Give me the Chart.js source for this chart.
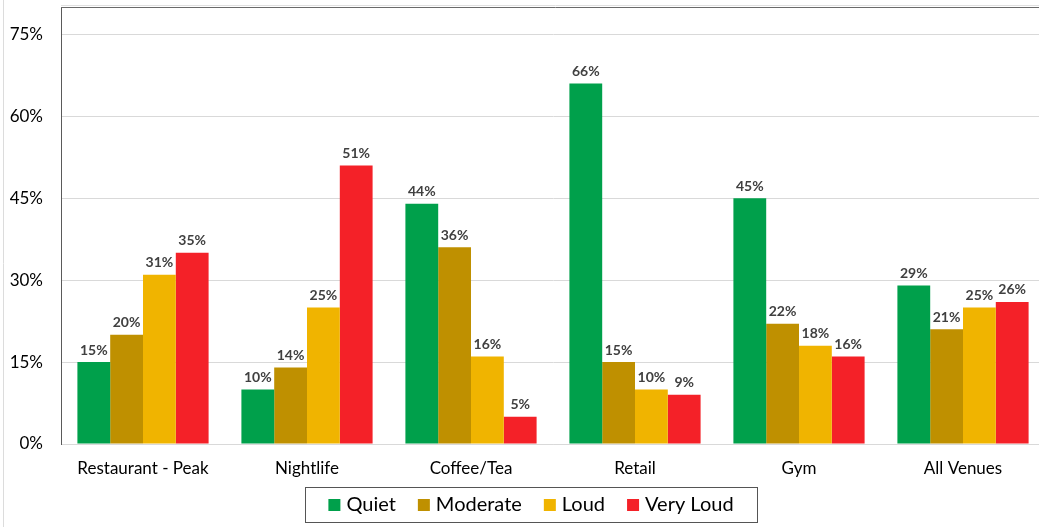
<!DOCTYPE html>
<html>
<head>
<meta charset="utf-8">
<script src="https://cdn.jsdelivr.net/npm/chart.js@4.4.1/dist/chart.umd.min.js"></script>
<style>
  html, body { margin: 0; padding: 0; background: #fff; overflow: hidden; }
  #wrap { position: relative; width: 1050px; height: 527px; }
</style>
</head>
<body>
<div id="wrap"><canvas id="c" width="1050" height="527"></canvas></div>
<script>
// Venue categories and share of visits by noise level (%)
const venues = ['Restaurant - Peak', 'Nightlife', 'Coffee/Tea', 'Retail', 'Gym', 'All Venues'];
const quiet    = [15, 10, 44, 66, 45, 29];
const moderate = [20, 14, 36, 15, 22, 21];
const loud     = [31, 25, 16, 10, 18, 25];
const veryLoud = [35, 51,  5,  9, 16, 26];
const yTicks   = [0, 15, 30, 45, 60, 75];

const FONT = 'Lato, "Liberation Sans", sans-serif';

// Value labels drawn above each bar
const valueLabels = {
  id: 'valueLabels',
  afterDatasetsDraw(chart) {
    const ctx = chart.ctx;
    ctx.save();
    ctx.font = 'bold 14px ' + FONT;
    ctx.fillStyle = '#404040';
    ctx.textAlign = 'center';
    ctx.textBaseline = 'bottom';
    chart.data.datasets.forEach((ds, i) => {
      chart.getDatasetMeta(i).data.forEach((bar, j) => {
        ctx.fillText(ds.data[j] + '%', bar.x, bar.y - 5);
      });
    });
    ctx.restore();
  }
};

// Plot frame (top edge), outer frame line and the boxed legend
const frame = {
  id: 'frame',
  afterDraw(chart) {
    const ctx = chart.ctx;
    const a = chart.chartArea;
    ctx.save();
    ctx.lineWidth = 1;
    ctx.strokeStyle = '#e0e0e0';
    ctx.beginPath();
    ctx.moveTo(a.left, a.top - 1.5);
    ctx.lineTo(chart.width, a.top - 1.5);
    ctx.stroke();
    ctx.strokeStyle = '#6a6a6a';
    ctx.beginPath();
    ctx.moveTo(a.left, a.top + 0.5);
    ctx.lineTo(chart.width, a.top + 0.5);
    ctx.stroke();
    ctx.strokeStyle = '#dcdcdc';
    ctx.beginPath();
    ctx.moveTo(3.5, 0);
    ctx.lineTo(3.5, chart.height);
    ctx.stroke();

    // legend
    const box = { x: 305, y: 487, w: 452, h: 35 };
    ctx.strokeStyle = '#555';
    ctx.strokeRect(box.x + 0.5, box.y + 0.5, box.w, box.h);
    ctx.font = '20px ' + FONT;
    ctx.textBaseline = 'middle';
    ctx.textAlign = 'left';
    const sq = 12, gapIn = 6, gapOut = 22;
    const items = chart.data.datasets.map(ds => ({
      label: ds.label, color: ds.backgroundColor, w: ctx.measureText(ds.label).width
    }));
    const total = items.reduce((s, it) => s + sq + gapIn + it.w, 0) + gapOut * (items.length - 1);
    let x = box.x + (box.w - total) / 2;
    const cy = box.y + box.h / 2 + 0.5;
    items.forEach(it => {
      ctx.fillStyle = it.color;
      ctx.fillRect(x, cy - sq / 2, sq, sq);
      ctx.fillStyle = '#000';
      ctx.fillText(it.label, x + sq + gapIn, cy);
      x += sq + gapIn + it.w + gapOut;
    });
    ctx.restore();
  }
};

new Chart(document.getElementById('c'), {
  type: 'bar',
  data: {
    labels: venues,
    datasets: [
      { label: 'Quiet',     data: quiet,    backgroundColor: '#00A04B' },
      { label: 'Moderate',  data: moderate, backgroundColor: '#BF9000' },
      { label: 'Loud',      data: loud,     backgroundColor: '#F0B400' },
      { label: 'Very Loud', data: veryLoud, backgroundColor: '#F42128' }
    ]
  },
  options: {
    responsive: false,
    animation: false,
    layout: { padding: { top: 7, right: 5, left: 0, bottom: 0 } },
    datasets: { bar: { categoryPercentage: 0.8, barPercentage: 1.0 } },
    scales: {
      x: {
        grid: { display: false },
        border: { display: true, color: '#d9d9d9' },
        ticks: { color: '#000', font: { family: FONT, size: 17 }, padding: 6, maxRotation: 0 },
        afterFit(s) { s.height = 83; s.paddingLeft = 0; s.paddingRight = 0; }
      },
      y: {
        min: 0,
        max: 80,
        afterBuildTicks(s) { s.ticks = yTicks.map(v => ({ value: v })); },
        grid: { color: '#d9d9d9', drawTicks: false },
        border: { display: true, color: '#5a5a5a', width: 1 },
        ticks: {
          color: '#000',
          font: { family: FONT, size: 17 },
          padding: 18,
          callback: v => v + '%'
        },
        afterFit(s) { s.width = 61; s.paddingTop = 0; s.paddingBottom = 0; }
      }
    },
    plugins: {
      legend: { display: false },
      tooltip: { enabled: false }
    }
  },
  plugins: [valueLabels, frame]
});
</script>
</body>
</html>
